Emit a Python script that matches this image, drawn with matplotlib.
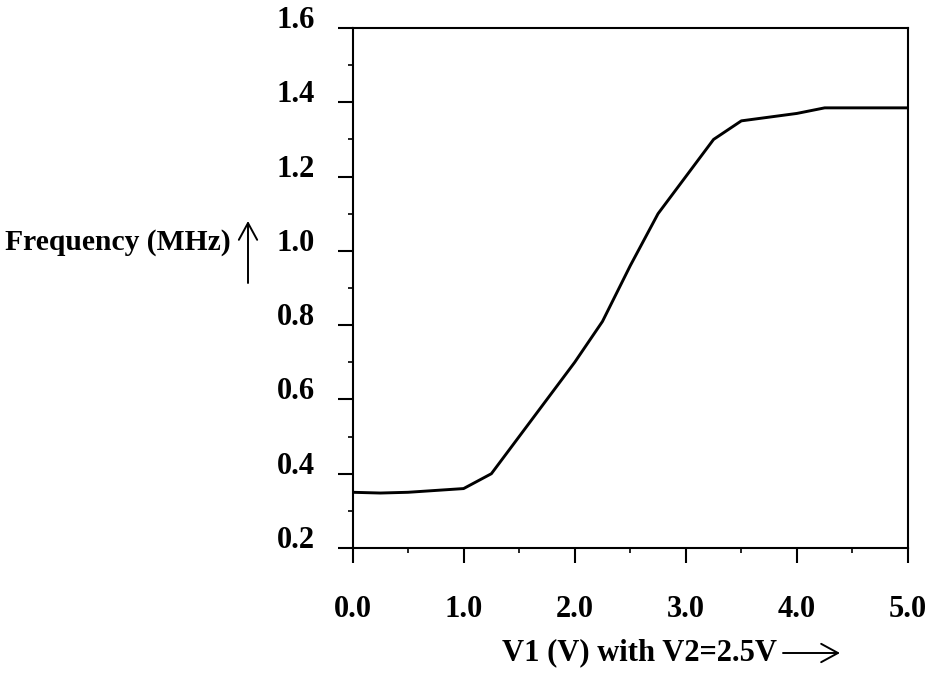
import matplotlib
matplotlib.use('Agg')
import matplotlib.pyplot as plt
from matplotlib.patches import FancyArrowPatch
from matplotlib.ticker import MultipleLocator

plt.rcParams['font.family'] = ['Liberation Serif', 'DejaVu Serif']
plt.rcParams['font.weight'] = 'bold'
plt.rcParams['font.size'] = 22

# V1 (V) and measured frequency (MHz)
v1 = [0.0, 0.25, 0.5, 0.75, 1.0, 1.25, 1.5, 1.75, 2.0, 2.25, 2.5,
      2.75, 3.0, 3.25, 3.5, 3.75, 4.0, 4.25, 4.5, 4.75, 5.0]
freq = [0.35, 0.348, 0.35, 0.355, 0.36, 0.40, 0.50, 0.60, 0.70, 0.81, 0.96,
        1.10, 1.20, 1.30, 1.35, 1.36, 1.37, 1.385, 1.385, 1.385, 1.385]

x_ticks = [0.0, 1.0, 2.0, 3.0, 4.0, 5.0]
y_ticks = [0.2, 0.4, 0.6, 0.8, 1.0, 1.2, 1.4, 1.6]

W, H = 932, 677
fig = plt.figure(figsize=(W / 100, H / 100), dpi=100)
ax = fig.add_axes([352.5 / W, 1 - 548 / H, 555.5 / W, 520 / H])

ax.plot(v1, freq, color='black', lw=2.1)

ax.set_xlim(0, 5)
ax.set_ylim(0.2, 1.6)
ax.set_xticks(x_ticks)
ax.set_xticklabels(['%.1f' % t for t in x_ticks])
ax.set_yticks(y_ticks)
ax.set_yticklabels(['%.1f' % t for t in y_ticks])
ax.xaxis.set_minor_locator(MultipleLocator(0.5))
ax.yaxis.set_minor_locator(MultipleLocator(0.1))

for s in ax.spines.values():
    s.set_linewidth(1.5)

ax.tick_params(which='major', direction='out', length=11, width=1.5)
ax.tick_params(which='minor', direction='out', length=3.6, width=1.2)
ax.tick_params(axis='x', which='major', pad=39)
ax.tick_params(axis='y', which='major', pad=16)
for lab in ax.get_xticklabels():
    lab.set_va('baseline')
for lab in ax.get_yticklabels():
    lab.set_va('baseline')

# axis captions with arrows
fig.text(231 / W, 1 - 250 / H, 'Frequency (MHz)', ha='right', va='baseline',
         fontsize=21.3)
fig.text(502 / W, 1 - 660 / H, 'V1 (V) with V2=2.5V', ha='left', va='baseline')


def arrow(p0, p1):
    fig.add_artist(FancyArrowPatch(
        (p0[0] / W, 1 - p0[1] / H), (p1[0] / W, 1 - p1[1] / H),
        transform=fig.transFigure, arrowstyle='->,head_length=0.55,head_width=0.3',
        mutation_scale=22, lw=1.4, color='black', shrinkA=0, shrinkB=0))


arrow((248, 283), (248, 221))
arrow((783, 653), (840, 653))

fig.savefig('out.png', dpi=100)
